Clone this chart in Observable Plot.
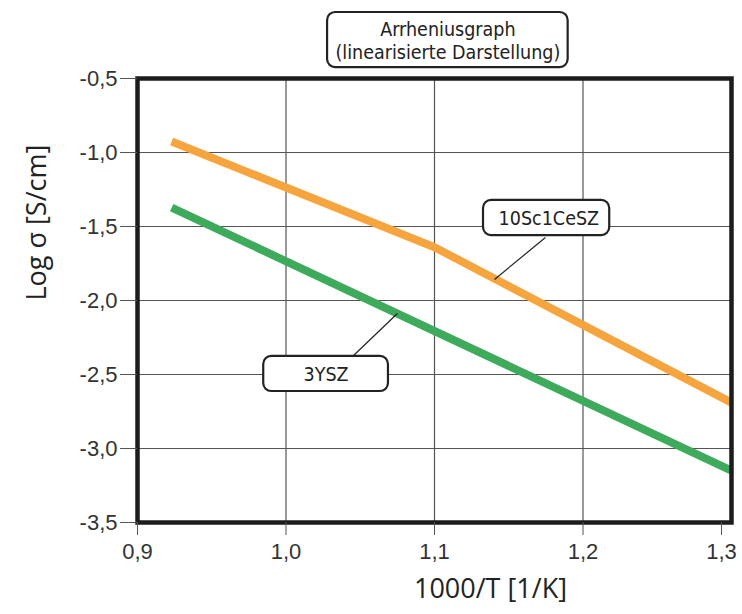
<!DOCTYPE html>
<html><head><meta charset="utf-8">
<script src="https://cdn.jsdelivr.net/npm/d3@7"></script>
<script src="https://cdn.jsdelivr.net/npm/@observablehq/plot@0.6"></script>
<style>
body{margin:0;background:#fff}
#chart svg g[aria-label="x-axis tick label"],
#chart svg g[aria-label="y-axis tick label"]{font-size:22px !important;}
</style>
</head><body><div id="chart"></div>
<script>
const xTicks = [0.9, 1.0, 1.1, 1.2, 1.3];
const yTicks = [-3.5, -3.0, -2.5, -2.0, -1.5, -1.0, -0.5];
const scName = "10Sc1CeSZ";
const scX = [0.923, 1.1, 1.3];
const scY = [-0.926, -1.64, -2.69];
const yszName = "3YSZ";
const yszX = [0.923, 1.3];
const yszY = [-1.372, -3.149];
const titleLines = "Arrheniusgraph\n(linearisierte Darstellung)";
const xLabel = "1000/T [1/K]";
const yLabel = "Log σ [S/cm]";

// label boxes (data coords)
const boxes = [
  {x1: 1.028, x2: 1.190, y1: -0.054, y2: -0.426},
  {x1: 1.133, x2: 1.218, y1: -1.324, y2: -1.561},
  {x1: 0.985, x2: 1.069, y1: -2.378, y2: -2.615}
];
const labels = [
  {x: 1.109, y: -0.243, text: titleLines},
  {x: 1.177, y: -1.443, text: scName},
  {x: 1.027, y: -2.497, text: yszName}
];
const leaders = [
  {x1: 1.1747, y1: -1.574, x2: 1.1404, y2: -1.858},
  {x1: 1.0455, y1: -2.372, x2: 1.075, y2: -2.088}
];

const series = [
  ...scX.map((x, i) => ({x, y: scY[i], s: scName})),
  ...yszX.map((x, i) => ({x, y: yszY[i], s: yszName}))
];
const fmt = d => d.toFixed(1).replace(".", ",");
const narrow = "'Liberation Sans Narrow', 'DejaVu Sans Condensed', sans-serif";
const myriad = "'Open Sans', 'Noto Sans', sans-serif";

const chart = Plot.plot({
  width: 742, height: 614,
  marginLeft: 137, marginRight: 11, marginTop: 78, marginBottom: 92,
  style: {fontFamily: "'Liberation Sans', Arial, sans-serif", fontSize: "21px", color: "#333", background: "#fff"},
  x: {domain: [0.9, 1.3]},
  y: {domain: [-3.5, -0.5]},
  color: {domain: [scName, yszName], range: ["#F6A43E", "#3EAA5C"]},
  marks: [
    Plot.gridX(xTicks.slice(1, -1), {stroke: "#555", strokeOpacity: 1, strokeWidth: 1.2}),
    Plot.gridY(yTicks.slice(1, -1), {stroke: "#555", strokeOpacity: 1, strokeWidth: 1.2}),
    Plot.line(series, {x: "x", y: "y", z: "s", stroke: "s", strokeWidth: 8, strokeLinecap: "butt", strokeLinejoin: "round"}),
    Plot.frame({stroke: "#1c1c1c", strokeWidth: 4.5}),
    Plot.axisX(xTicks.slice(0, -1), {tickSize: 13, tickPadding: 8, tickFormat: fmt, fontSize: 22, stroke: "#555", label: null}),
    Plot.axisX(xTicks.slice(-1), {tickSize: 13, tickPadding: 8, tickFormat: fmt, fontSize: 22, stroke: "#555", dx: -10, label: null}),
    Plot.axisY(yTicks, {tickSize: 17, tickPadding: 3, tickFormat: fmt, fontSize: 22, stroke: "#555", label: null}),
    Plot.link(leaders, {x1: "x1", y1: "y1", x2: "x2", y2: "y2", stroke: "#222", strokeWidth: 1.2}),
    Plot.rect(boxes, {x1: "x1", x2: "x2", y1: "y1", y2: "y2", fill: "#fff", stroke: "#222", strokeWidth: 2.2, rx: 8, clip: false}),
    Plot.text(labels, {x: "x", y: "y", text: "text", fontSize: 19.5, lineHeight: 1.18, fill: "#222", fontFamily: narrow}),
    Plot.text([xLabel], {frameAnchor: "bottom", dx: 56, dy: 75, fontSize: 27, fill: "#222", fontFamily: myriad}),
    Plot.text([yLabel], {frameAnchor: "left", dx: -100, rotate: -90, fontSize: 27, fill: "#222", fontFamily: myriad})
  ]
});
document.getElementById("chart").append(chart);
</script>
</body></html>
